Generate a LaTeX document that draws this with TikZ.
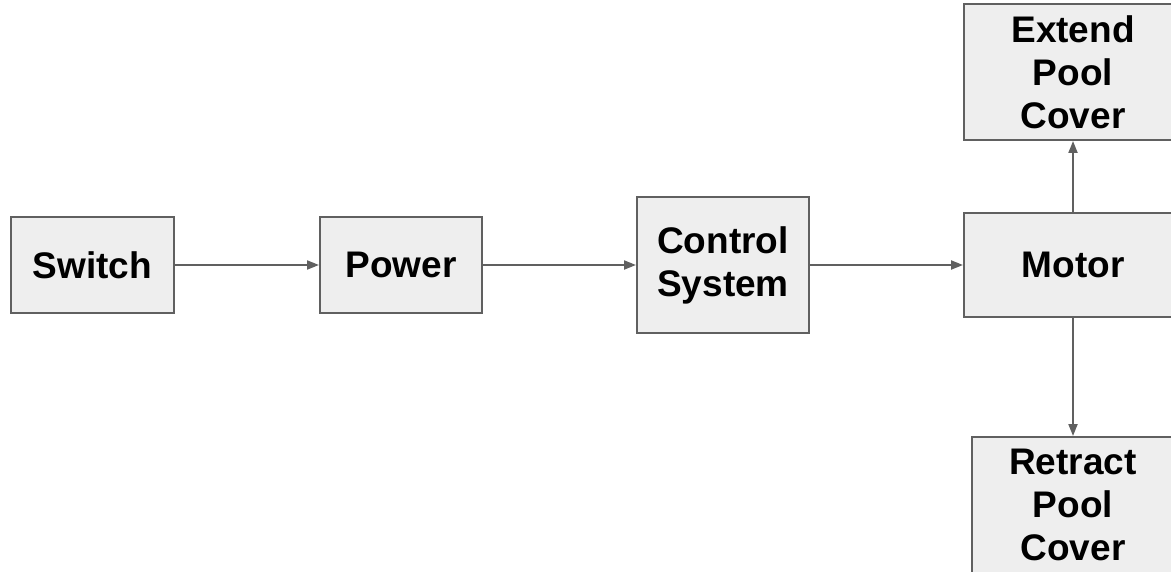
\documentclass[tikz,border=0pt]{standalone}
\usepackage{fontspec}
\setmainfont{Liberation Sans}
\usepackage{xcolor}
\usetikzlibrary{arrows.meta, positioning}
\definecolor{edgegray}{RGB}{96,96,96}
\definecolor{boxfill}{RGB}{238,238,238}
\tikzset{
  block/.style = {draw=edgegray, fill=boxfill, line width=1pt,
    align=center, inner sep=0pt, text centered,
    font=\fontsize{18.5pt}{21.5pt}\selectfont\bfseries},
  flow/.style = {draw=edgegray, line width=1pt,
    -{Triangle[length=6pt, width=4.5pt]}}
}

\begin{document}
\begin{tikzpicture}[x=0.5pt, y=-0.5pt]
\useasboundingbox (0,0) rectangle (1171,572);
% main chain, left to right
\node [block, minimum width=81.5pt, minimum height=48pt] (switch) at (92.5,265) {Switch};
\node [block, minimum width=81pt, minimum height=48pt, right=72pt of switch] (power) {Power};
\node [block, minimum width=86pt, minimum height=68pt, right=76.5pt of power] (control) {Control\\System};
\node [block, minimum width=109pt, minimum height=52pt, right=76.5pt of control] (motor) {Motor};
% the two outputs of the motor
\node [block, minimum width=109pt, minimum height=68pt, above=35.5pt of motor] (extend) {Extend\\Pool\\Cover};
\node [block, minimum width=101pt, minimum height=68pt, below=59pt of motor] (retract) {Retract\\Pool\\Cover};

\draw [flow] (switch) -- (power);
\draw [flow] (power) -- (control);
\draw [flow] (control) -- (motor);
\draw [flow] (motor) -- (extend);
\draw [flow] (motor) -- (retract);
\end{tikzpicture}
\end{document}
